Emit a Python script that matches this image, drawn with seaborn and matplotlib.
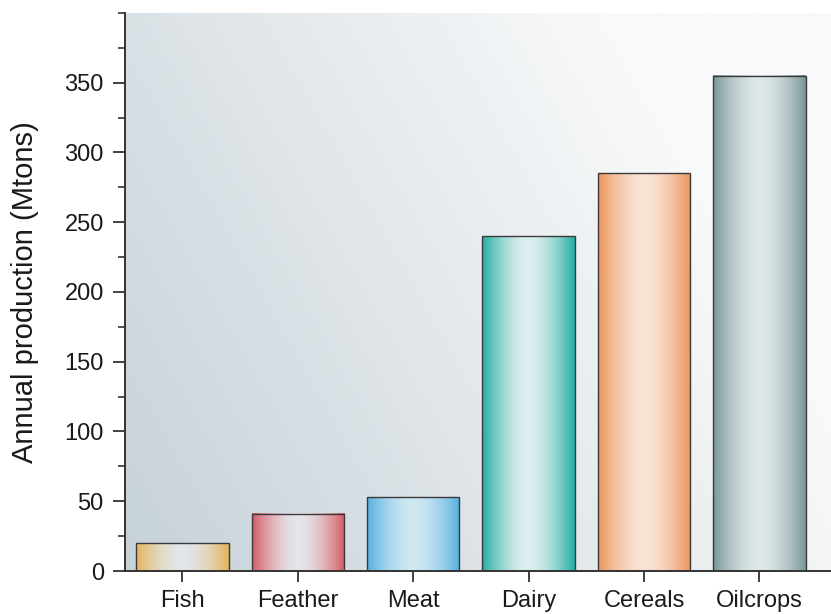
import numpy as np
import pandas as pd
import seaborn as sns
import matplotlib.pyplot as plt
from matplotlib.colors import to_rgb
from matplotlib.ticker import MultipleLocator

categories = ['Fish', 'Feather', 'Meat', 'Dairy', 'Cereals', 'Oilcrops']
production = [20, 41, 53, 240, 285, 355]
edge_colors = ['#E6B45A', '#D65A64', '#55B0E0', '#22ADA3', '#EC955A', '#789699']
light_colors = ['#E2E6EA', '#E4E6EA', '#CFE8F2', '#DDEFEE', '#F9E3D6', '#E0E8E9']


def main():
    sns.set_style('ticks')
    plt.rcParams['font.family'] = ['Liberation Sans', 'DejaVu Sans']

    df = pd.DataFrame({'category': categories, 'production': production})

    fig = plt.figure(figsize=(8.31, 6.14), dpi=100)
    ax = fig.add_axes([0.150, 0.070, 0.850, 0.909])

    sns.barplot(data=df, x='category', y='production', ax=ax, width=0.8,
                color='white', edgecolor='#3a3a3a', linewidth=1.0, zorder=3)
    for patch in ax.patches:
        patch.set_facecolor('none')

    ax.set_xlim(-0.5, 5.62)
    ax.set_ylim(0, 400)

    # background gradient (diagonal, grey-blue bottom-left -> white top-right)
    gx, gy = np.meshgrid(np.linspace(0, 1, 200), np.linspace(0, 1, 200))
    t = np.clip((gx * 0.9 + gy * 0.4) / 1.0, 0, 1)
    c0 = np.array(to_rgb('#C6D1D8'))
    c1 = np.array(to_rgb('#F8F9FA'))
    bg = c0[None, None, :] * (1 - t[..., None]) + c1[None, None, :] * t[..., None]
    ax.imshow(bg, extent=[0, 1, 0, 1], transform=ax.transAxes, origin='lower',
              aspect='auto', zorder=0)

    # horizontal gradient fill inside each bar
    xs = np.linspace(0, 1, 128)
    w = 1 - np.abs(2 * xs - 1) ** 1.7
    for patch, ec, lc in zip(ax.patches, edge_colors, light_colors):
        ca = np.array(to_rgb(ec))
        cb = np.array(to_rgb(lc))
        row = ca[None, :] * (1 - w[:, None]) + cb[None, :] * w[:, None]
        img = np.repeat(row[None, :, :], 2, axis=0)
        x0, y0 = patch.get_x(), patch.get_y()
        ax.imshow(img, extent=[x0, x0 + patch.get_width(), y0, y0 + patch.get_height()],
                  aspect='auto', zorder=2, interpolation='bilinear')

    ax.set_xlim(-0.5, 5.62)
    ax.set_ylim(0, 400)

    ax.yaxis.set_major_locator(MultipleLocator(50))
    ax.yaxis.set_minor_locator(MultipleLocator(25))
    ax.set_yticks([0, 50, 100, 150, 200, 250, 300, 350])

    sns.despine(ax=ax, top=True, right=True)
    for s in ['left', 'bottom']:
        ax.spines[s].set_color('#333333')
        ax.spines[s].set_linewidth(1.4)
    ax.tick_params(axis='y', which='major', length=9, width=1.3, color='#333333',
                   labelsize=17, labelcolor='#1a1a1a', pad=6)
    ax.tick_params(axis='y', which='minor', length=5, width=1.2, color='#333333')
    ax.tick_params(axis='x', which='major', length=8, width=1.3, color='#333333',
                   labelsize=17, labelcolor='#1a1a1a', pad=6)

    ax.set_xlabel('')
    ax.set_ylabel('Annual production (Mtons)', fontsize=21, color='#1a1a1a',
                  labelpad=18)

    fig.savefig('out.png', dpi=100)


if __name__ == '__main__':
    main()
